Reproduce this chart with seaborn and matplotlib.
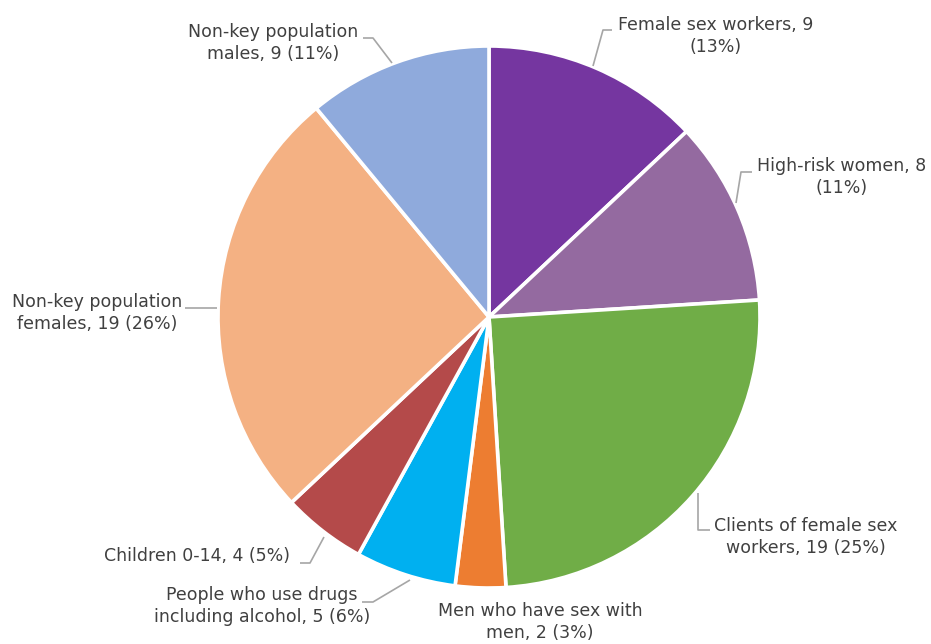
import matplotlib
matplotlib.use("Agg")
import matplotlib.pyplot as plt
import seaborn as sns

sns.set_theme(style="white")
plt.rcParams["font.family"] = ["DejaVu Sans"]

# Case distribution by population group
groups = [
    "Female sex workers",
    "High-risk women",
    "Clients of female sex workers",
    "Men who have sex with men",
    "People who use drugs including alcohol",
    "Children 0-14",
    "Non-key population females",
    "Non-key population males",
]
counts = [9, 8, 19, 2, 5, 4, 19, 9]
shares = [13, 11, 25, 3, 6, 5, 26, 11]
colors = ["#7536A0", "#946AA0", "#70AD47", "#ED7D31",
          "#00B0F0", "#B44A4A", "#F4B183", "#8FAADC"]

# Label text blocks (line-broken as displayed)
label_lines = [
    ["Female sex workers, {c}", "({p}%)"],
    ["High-risk women, {c}", "({p}%)"],
    ["Clients of female sex", "workers, {c} ({p}%)"],
    ["Men who have sex with", "men, {c} ({p}%)"],
    ["People who use drugs", "including alcohol, {c} ({p}%)"],
    ["Children 0-14, {c} ({p}%)"],
    ["Non-key population", "females, {c} ({p}%)"],
    ["Non-key population", "males, {c} ({p}%)"],
]

W, H = 931, 644
CX, CY, R = 489, 317, 271


def to_data(px, py):
    return (px - CX) / R, (CY - py) / R


fig = plt.figure(figsize=(W / 100, H / 100), dpi=100)
ax = fig.add_axes([0, 0, 1, 1])
ax.pie(shares, colors=colors, startangle=90, counterclock=False,
       radius=1.0, wedgeprops=dict(edgecolor="white", linewidth=2.6))
x0, _ = to_data(0, 0)
x1, _ = to_data(W, 0)
_, y0 = to_data(0, H)
_, y1 = to_data(0, 0)
ax.set_xlim(x0, x1)
ax.set_ylim(y0, y1)
ax.set_aspect("auto")
ax.axis("off")

# Label anchors (pixel space) and leader-line paths
label_pos = [
    (716, 36),
    (842, 177),
    (806, 537),
    (540, 622),
    (262, 606),
    (197, 556),
    (97, 313),
    (273, 43),
]
leaders = [
    [(593, 66), (603, 30), (612, 30)],
    [(736, 203), (741, 172), (752, 172)],
    [(698, 493), (698, 530), (710, 530)],
    None,
    [(410, 580), (373, 602), (362, 602)],
    [(324, 537), (310, 563), (300, 563)],
    [(217, 308), (185, 308)],
    [(392, 63), (373, 38), (363, 38)],
]

for lines, c, p, (lx, ly), path in zip(label_lines, counts, shares,
                                       label_pos, leaders):
    text = "\n".join(s.format(c=c, p=p) for s in lines)
    tx, ty = to_data(lx, ly)
    ax.text(tx, ty, text, ha="center", va="center", fontsize=12.5,
            color="#404040", linespacing=1.3, multialignment="center")
    if path:
        xs, ys = zip(*[to_data(*pt) for pt in path])
        ax.plot(xs, ys, color="#A6A6A6", linewidth=1.2,
                solid_capstyle="butt")

fig.savefig("out.png", dpi=100, facecolor="white")
